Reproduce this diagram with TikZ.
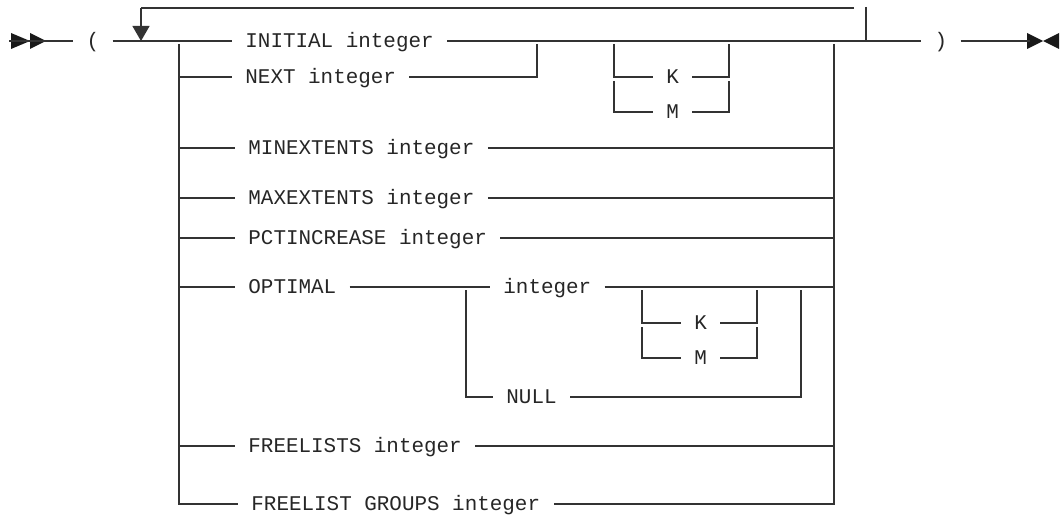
\documentclass[tikz,border=0pt]{standalone}
\usepackage{fontspec}
\newfontfamily\railfont{Liberation Mono}
\usepackage{tikz}
\usetikzlibrary{arrows.meta,positioning}

\begin{document}
\begin{tikzpicture}[x=0.5pt, y=-0.5pt,
    rail/.style={line width=0.6pt, draw=black!80},
    term/.style={font=\railfont\fontsize{10.46}{12}\selectfont, text=black!85,
      inner xsep=6.5pt, inner ysep=0pt, text height=6.3pt, text depth=0pt, anchor=west}]
  \useasboundingbox (0,0) rectangle (1061,519);
  % start and end marks
  \fill[black!90] (11,33) -- (30,41) -- (11,49) -- cycle;
  \fill[black!90] (30,33) -- (46,41) -- (30,49) -- cycle;
  \fill[black!90] (1027,33) -- (1043,41) -- (1027,49) -- cycle;
  \fill[black!90] (1059,33) -- (1043,41) -- (1059,49) -- cycle;
  % keywords
  \node[term, anchor=center] (lpar) at (93,41) {(};
  \node[term, anchor=center] (rpar) at (941,41) {)};
  \node[term] (initial) at (232,41) {INITIAL integer};
  \node[term] (next) at (232,77) {NEXT integer};
  \node[term] (kone) at (653,77) {K};
  \node[term] (mone) at (653,112) {M};
  \node[term] (minext) at (235,148) {MINEXTENTS integer};
  \node[term] (maxext) at (235,198) {MAXEXTENTS integer};
  \node[term] (pctinc) at (235,238) {PCTINCREASE integer};
  \node[term] (optimal) at (235,287) {OPTIMAL};
  \node[term] (optint) at (490,287) {integer};
  \node[term] (ktwo) at (681,323) {K};
  \node[term] (mtwo) at (681,358) {M};
  \node[term] (null) at (493,397) {NULL};
  \node[term] (freelists) at (235,446) {FREELISTS integer};
  \node[term] (groups) at (238,504) {FREELIST GROUPS integer};
  % junction points
  \coordinate (in) at (9,41);
  \coordinate (out) at (1030,41);
  \coordinate (lbar) at (179,44);
  \coordinate (rbar) at (834,44);
  \coordinate (nextup) at (537,44);
  \coordinate (konel) at (614,44);
  \coordinate (koner) at (729,44);
  \coordinate (monel) at (614,81);
  \coordinate (moner) at (729,81);
  \coordinate (nulll) at (466,290);
  \coordinate (nullr) at (801,290);
  \coordinate (ktwol) at (642,290);
  \coordinate (ktwor) at (757,290);
  \coordinate (mtwol) at (642,327);
  \coordinate (mtwor) at (757,327);
  \coordinate (loopup) at (866,7);
  \coordinate (loopdown) at (866,41);
  \coordinate (loopend) at (854,8);
  \coordinate (back) at (141,8);
  \coordinate (backtip) at (141,41);
  % main line
  \draw[rail] (in) -- (lpar.west);
  \draw[rail] (lpar.east) -- (initial.west);
  \draw[rail] (initial.east) -- (rpar.west);
  \draw[rail] (rpar.east) -- (out);
  % repeat loop
  \draw[rail] (loopend) -- (back);
  \draw[rail, -{Triangle[width=8.5pt,length=7.5pt]}] (back) -- (backtip);
  \draw[rail] (loopup) -- (loopdown);
  % left and right bars
  \draw[rail] (lbar) |- (groups.west);
  \draw[rail] (rbar) |- (groups.east);
  \foreach \n in {next, minext, maxext, pctinc, optimal, freelists}
    \draw[rail] (\n.west -| lbar) -- (\n.west);
  \foreach \n in {minext, maxext, pctinc, optint, freelists}
    \draw[rail] (\n.east) -- (\n.east -| rbar);
  \draw[rail] (next.east) -| (nextup);
  % K / M after INITIAL
  \draw[rail] (konel) |- (kone.west);
  \draw[rail] (kone.east) -| (koner);
  \draw[rail] (monel) |- (mone.west);
  \draw[rail] (mone.east) -| (moner);
  % OPTIMAL choices
  \draw[rail] (optimal.east) -- (optint.west);
  \draw[rail] (nulll) |- (null.west);
  \draw[rail] (null.east) -| (nullr);
  \draw[rail] (ktwol) |- (ktwo.west);
  \draw[rail] (ktwo.east) -| (ktwor);
  \draw[rail] (mtwol) |- (mtwo.west);
  \draw[rail] (mtwo.east) -| (mtwor);
\end{tikzpicture}
\end{document}
